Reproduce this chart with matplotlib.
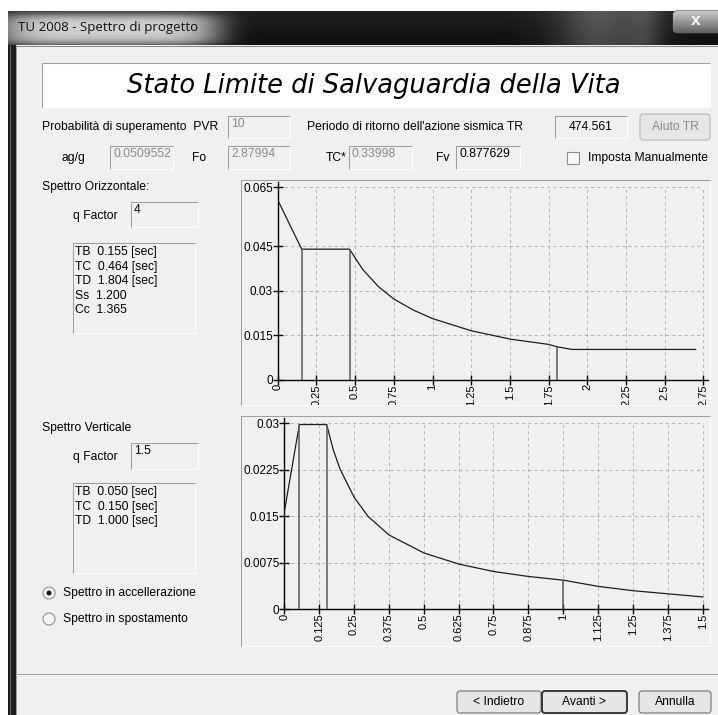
import matplotlib
matplotlib.use('Agg')
import matplotlib.pyplot as plt
import numpy as np
from matplotlib.patches import Rectangle, Circle, FancyBboxPatch
from matplotlib.transforms import Bbox, TransformedBbox

plt.rcParams['font.family'] = ['Liberation Sans', 'DejaVu Sans']
plt.rcParams['font.size'] = 8.7

W, H = 718, 715

# horizontal design spectrum
oriz_period = [0.0, 0.155, 0.464, 0.55, 0.65, 0.75, 0.875, 1.0, 1.25, 1.5, 1.75, 1.804, 1.9, 2.7]
oriz_sd = [0.0607, 0.0441, 0.0441, 0.0372, 0.0315, 0.0273, 0.0236, 0.0207, 0.0166, 0.0138, 0.0120, 0.0112, 0.0103, 0.0103]
oriz_marks = [0.155, 0.464, 1.804]
oriz_mark_tops = [0.0441, 0.0441, 0.0112]
oriz_xticks = [0, 0.25, 0.5, 0.75, 1, 1.25, 1.5, 1.75, 2, 2.25, 2.5, 2.75]
oriz_xlabels = ['0', '0.25', '0.5', '0.75', '1', '1.25', '1.5', '1.75', '2', '2.25', '2.5', '2.75']
oriz_yticks = [0, 0.015, 0.03, 0.045, 0.065]
oriz_ylabels = ['0', '0.015', '0.03', '0.045', '0.065']

# vertical design spectrum
vert_period = [0.0, 0.054, 0.152, 0.175, 0.2, 0.25, 0.3, 0.375, 0.5, 0.625, 0.75, 0.875, 1.0, 1.125, 1.25, 1.375, 1.5]
vert_sd = [0.0157, 0.0298, 0.0298, 0.0258, 0.0226, 0.0181, 0.0150, 0.0120, 0.0091, 0.0073, 0.0061, 0.0053, 0.0047, 0.0037, 0.0030, 0.0025, 0.0020]
vert_marks = [0.054, 0.152, 1.0]
vert_mark_tops = [0.0298, 0.0298, 0.0047]
vert_xticks = [0, 0.125, 0.25, 0.375, 0.5, 0.625, 0.75, 0.875, 1, 1.125, 1.25, 1.375, 1.5]
vert_xlabels = ['0', '0.125', '0.25', '0.375', '0.5', '0.625', '0.75', '0.875', '1', '1.125', '1.25', '1.375', '1.5']
vert_yticks = [0, 0.0075, 0.015, 0.0225, 0.03]
vert_ylabels = ['0', '0.0075', '0.015', '0.0225', '0.03']

# dialog fields
oriz_info = ['TB  0.155 [sec]', 'TC  0.464 [sec]', 'TD  1.804 [sec]', 'Ss  1.200', 'Cc  1.365']
vert_info = ['TB  0.050 [sec]', 'TC  0.150 [sec]', 'TD  1.000 [sec]']

BG = '#f0f0f0'
GREY_TXT = '#8a8a8a'

fig = plt.figure(figsize=(W / 100, H / 100), dpi=100)
fig.patch.set_facecolor('white')
ui = fig.add_axes([0, 0, 1, 1])
ui.set_xlim(0, W)
ui.set_ylim(H, 0)
ui.axis('off')


def px_line(xs, ys, color, lw=0.75):
    ui.plot(xs, ys, color=color, lw=lw, solid_capstyle='butt')


def sunken(x0, y0, x1, y1, face=BG):
    ui.add_patch(Rectangle((x0, y0), x1 - x0, y1 - y0, fc=face, ec='none'))
    px_line([x0, x0, x1], [y1, y0, y0], '#a0a0a0')
    px_line([x0 + 1, x1, x1], [y1, y1, y0 + 1], '#ffffff')


def edit_box(x0, y0, x1, y1, text, color='black', center=False):
    sunken(x0, y0, x1, y1)
    if center:
        ui.text((x0 + x1) / 2, (y0 + y1) / 2, text, color=color, ha='center', va='center')
    else:
        ui.text(x0 + 3, y0 + 2, text, color=color, ha='left', va='top')


def button(x0, y0, x1, y1, text, color='black', edge='#707070', lw=0.8):
    ui.add_patch(FancyBboxPatch((x0, y0), x1 - x0, y1 - y0,
                                boxstyle='round,pad=0,rounding_size=3',
                                fc='#e6e6e6', ec=edge, lw=lw))
    ui.text((x0 + x1) / 2, (y0 + y1) / 2, text, color=color, ha='center', va='center')


def label(x, y, text, **kw):
    ui.text(x, y, text, ha='left', va='center', **kw)


# window frame and title bar
ui.add_patch(Rectangle((8, 11), W - 8, H - 11, fc=BG, ec='none'))
ys = np.linspace(0, 1, 34)[:, None]
xs = np.arange(8, W)[None, :].astype(float)
bar = 0.06 + 0.06 * (1 - ys)
bar = bar + 0.72 * np.exp(-((xs - 108) / 112.0) ** 6) * np.exp(-((ys - 0.55) / 0.5) ** 4)
bar = bar + 0.22 * np.exp(-((xs - 600) / 45.0) ** 2) + 0.12 * np.exp(-((xs - 645) / 18.0) ** 2)
ui.imshow(np.clip(bar, 0, 1), cmap='gray', vmin=0, vmax=1, extent=(8, W, 45, 11),
          aspect='auto', interpolation='bilinear', zorder=1)
ui.text(18, 28, 'TU 2008 - Spettro di progetto', ha='left', va='center',
        fontsize=9.5, family=['Open Sans', 'DejaVu Sans'], color='#101010', zorder=3)
ui.add_patch(Rectangle((8, 45), 8, H - 45, fc='#1c1c1c', ec='none', zorder=2))
px_line([9.5, 9.5], [45, H], '#6a6a6a')
px_line([15.5, 15.5], [45, H], '#9a9a9a')
px_line([16, W], [45.5, 45.5], '#8a8a8a')

close = FancyBboxPatch((673, 11), 50, 22, boxstyle='round,pad=0,rounding_size=4',
                       fc='#8a8a8a', ec='#3a3a3a', lw=0.8, zorder=3)
ui.add_patch(close)
grad = np.linspace(0.78, 0.38, 22)[:, None] * np.ones((1, 50))
im = ui.imshow(grad, cmap='gray', vmin=0, vmax=1, extent=(673, 723, 33, 11),
               aspect='auto', zorder=3)
im.set_clip_path(close)
ui.text(696, 21.5, 'X', ha='center', va='center', color='white', fontsize=9,
        fontweight='bold', family='DejaVu Sans', zorder=4)

# banner
sunken(42, 63, 710, 107, face='white')
ui.text(374, 86, 'Stato Limite di Salvaguardia della Vita', ha='center', va='center',
        fontsize=18.5, style='italic', family='DejaVu Sans', color='black')

# parameter rows
label(42, 127, 'Probabilità di superamento  PVR')
edit_box(228, 116, 290, 138, '10', color=GREY_TXT)
label(307, 127, "Periodo di ritorno dell'azione sismica TR")
edit_box(555, 116, 627, 138, '474.561', center=True)
button(640, 114, 710, 140, 'Aiuto TR', color=GREY_TXT, edge='#b5b5b5')

label(62, 158, 'ag/g')
edit_box(110, 146, 173, 169, '0.0509552', color=GREY_TXT)
label(192, 158, 'Fo')
edit_box(228, 146, 290, 169, '2.87994', color=GREY_TXT)
label(326, 158, 'TC*')
edit_box(349, 146, 412, 169, '0.33998', color=GREY_TXT)
label(436, 158, 'Fv')
edit_box(456, 146, 520, 169, '0.877629')
ui.add_patch(Rectangle((567, 152), 12, 12, fc='#f8f8f8', ec='#8e8f8f', lw=0.8))
label(588, 158, 'Imposta Manualmente')

# left column
label(42, 187, 'Spettro Orizzontale:')
label(73, 216, 'q Factor')
edit_box(131, 202, 198, 227, '4')
sunken(73, 243, 195, 333)
for i, line in enumerate(oriz_info):
    ui.text(75, 252 + i * 14.6, line, ha='left', va='center')

label(42, 428, 'Spettro Verticale')
label(73, 457, 'q Factor')
edit_box(131, 443, 198, 469, '1.5')
sunken(73, 483, 195, 573)
for i, line in enumerate(vert_info):
    ui.text(75, 492 + i * 14.6, line, ha='left', va='center')

ui.add_patch(Circle((49, 593), 6, fc='#f6f6f6', ec='#8e8f8f', lw=0.8))
ui.add_patch(Circle((49, 593), 2.5, fc='#1a1a1a', ec='none'))
label(63, 593, 'Spettro in accellerazione')
ui.add_patch(Circle((49, 619), 6, fc='#f6f6f6', ec='#8e8f8f', lw=0.8))
label(63, 619, 'Spettro in spostamento')

# chart panels
sunken(241, 180, 710, 405)
sunken(241, 416, 710, 646)

# bottom bar
px_line([16, W], [673.5, 673.5], '#a0a0a0')
px_line([16, W], [674.5, 674.5], '#ffffff')
button(457, 691, 541, 713, '< Indietro')
button(542, 691, 627, 713, 'Avanti >', edge='#3a3a3a', lw=1.4)
button(639, 691, 711, 713, 'Annulla')


def spectrum(panel, x0_px, x_unit, y0_px, y_unit, right_px, top_px,
             period, sd, marks, mark_tops, xticks, xlabels, yticks, ylabels):
    left = x0_px / W
    bottom = (H - y0_px) / H
    ax = fig.add_axes([left, bottom, (right_px - x0_px) / W, (y0_px - top_px) / H])
    ax.set_xlim(0, (right_px - x0_px) / x_unit)
    ax.set_ylim(0, (y0_px - top_px) / y_unit)
    ax.patch.set_visible(False)
    for side in ['top', 'right']:
        ax.spines[side].set_visible(False)
    for side in ['left', 'bottom']:
        ax.spines[side].set_linewidth(1.0)
        ax.spines[side].set_color('black')

    # dashed grid only over the data range
    ax.vlines(xticks[1:], 0, yticks[-1], colors='#b4b4b4', lw=0.75,
              linestyles=(0, (3, 3)), zorder=1)
    ax.hlines(yticks[1:], 0, xticks[-1], colors='#b4b4b4', lw=0.75,
              linestyles=(0, (3, 3)), zorder=1)

    ax.plot(period, sd, color='#1e1e1e', lw=0.9, zorder=3)
    ax.vlines(marks, 0, mark_tops, colors='#5a5a5a', lw=1.1, zorder=3)

    ax.set_xticks(xticks)
    ax.set_xticklabels(xlabels, rotation=90)
    ax.set_yticks(yticks)
    ax.set_yticklabels(ylabels)
    ax.tick_params(direction='inout', length=7, width=1.0, pad=0, colors='black')
    ax.tick_params(axis='x', labelsize=8, pad=-0.5)
    ax.tick_params(axis='y', labelsize=8.5)

    clip = Bbox.from_extents(panel[0] / W, 1 - panel[3] / H, panel[2] / W, 1 - panel[1] / H)
    for lbl in ax.get_xticklabels() + ax.get_yticklabels():
        lbl.set_clip_on(True)
        lbl.set_clip_box(TransformedBbox(clip, fig.transFigure))
    return ax


spectrum((241, 180, 710, 405), 277.7, 154.8, 380.0, 2967.0, 708, 182,
         oriz_period, oriz_sd, oriz_marks, oriz_mark_tops,
         oriz_xticks, oriz_xlabels, oriz_yticks, oriz_ylabels)
spectrum((241, 416, 710, 646), 284.3, 278.9, 609.3, 6200.0, 708, 418,
         vert_period, vert_sd, vert_marks, vert_mark_tops,
         vert_xticks, vert_xlabels, vert_yticks, vert_ylabels)

fig.savefig('out.png', dpi=100, facecolor=fig.get_facecolor())
